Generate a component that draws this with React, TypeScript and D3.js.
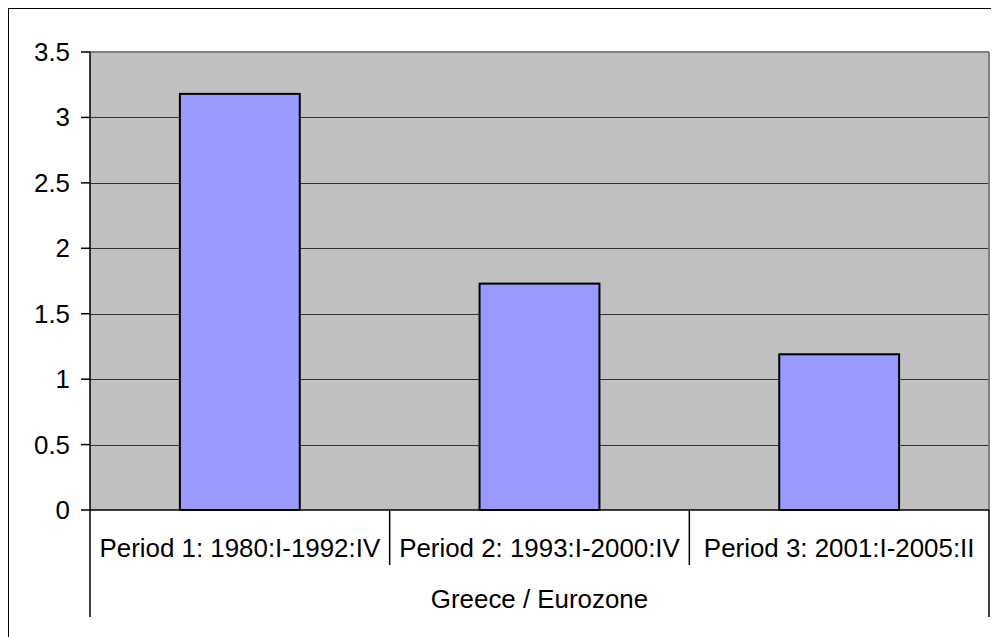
import React from "react";
import * as d3 from "d3";

const categories = [
  "Period 1: 1980:I-1992:IV",
  "Period 2: 1993:I-2000:IV",
  "Period 3: 2001:I-2005:II",
];
const values = [3.18, 1.73, 1.19];
const tickValues = [0, 0.5, 1, 1.5, 2, 2.5, 3, 3.5];
const tickLabels = ["0", "0.5", "1", "1.5", "2", "2.5", "3", "3.5"];
const groupLabel = "Greece / Eurozone";

export default function App() {
  const W = 991;
  const H = 629;
  const left = 90;
  const right = 989;
  const top = 52;
  const bottom = 510;
  const font = "Arial, 'Liberation Sans', sans-serif";
  const fs = 25.9;

  const y = d3.scaleLinear().domain([0, 3.5]).range([bottom, top]);
  const x = d3.scaleBand<string>().domain(categories).range([left, right]).padding(0);
  const bw = x.bandwidth();

  return (
    <svg width={W} height={H} style={{ display: "block", overflow: "hidden" }}>
      <g transform="translate(-8,-8)">
        <rect x={8.5} y={8.5} width={1100} height={800} fill="#fff" stroke="#000" strokeWidth={1} />
        <rect x={left} y={top} width={right - left} height={bottom - top} fill="#C0C0C0" />
        {tickValues.slice(1).map((t) => (
          <line key={"g" + t} x1={left} x2={right} y1={Math.round(y(t)) + 0.5} y2={Math.round(y(t)) + 0.5} stroke="#333" strokeWidth={1} />
        ))}
        <line x1={left} x2={right} y1={top} y2={top} stroke="#808080" strokeWidth={2} />
        <line x1={right} x2={right} y1={top} y2={bottom} stroke="#808080" strokeWidth={2} />
        {categories.map((c, i) => {
          const x0 = (x(c) as number) + bw * 0.3;
          const w = bw * 0.4;
          return (
            <rect key={c} x={x0} y={y(values[i])} width={w} height={bottom - y(values[i])} fill="#9999FF" stroke="#000" strokeWidth={2} />
          );
        })}
        <line x1={left} x2={left} y1={top} y2={617} stroke="#000" strokeWidth={1.5} />
        <line x1={left} x2={right} y1={bottom} y2={bottom} stroke="#000" strokeWidth={1.5} />
        <line x1={right} x2={right} y1={bottom} y2={617} stroke="#000" strokeWidth={1.5} />
        {categories.slice(1).map((c) => (
          <line key={"d" + c} x1={(x(c) as number)} x2={(x(c) as number)} y1={bottom} y2={565} stroke="#000" strokeWidth={1.5} />
        ))}
        {tickValues.map((t, i) => (
          <g key={"t" + t}>
            <line x1={81} x2={left} y1={y(t)} y2={y(t)} stroke="#000" strokeWidth={1.5} />
            <text x={70} y={y(t)} dy="0.35em" textAnchor="end" fontFamily={font} fontSize={fs} fill="#000">
              {tickLabels[i]}
            </text>
          </g>
        ))}
        {categories.map((c) => (
          <text key={"l" + c} x={(x(c) as number) + bw / 2} y={557} textAnchor="middle" fontFamily={font} fontSize={fs} fill="#000">
            {c}
          </text>
        ))}
        <text x={(left + right) / 2} y={608} textAnchor="middle" fontFamily={font} fontSize={fs} fill="#000">
          {groupLabel}
        </text>
      </g>
    </svg>
  );
}
